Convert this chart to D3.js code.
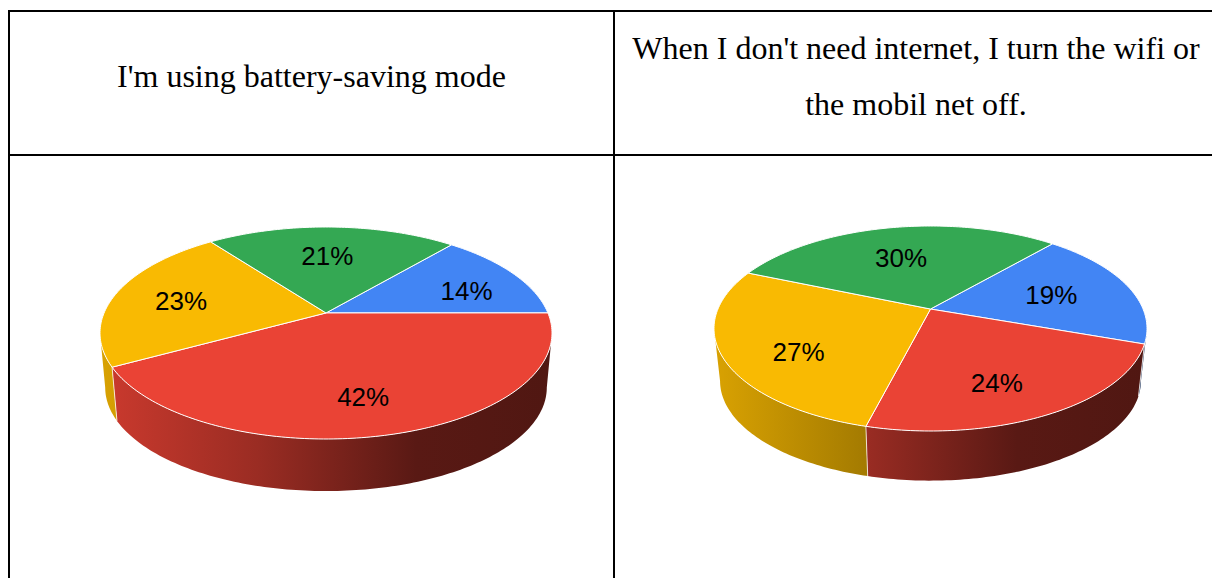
<!DOCTYPE html>
<html><head><meta charset="utf-8">
<script src="https://cdn.jsdelivr.net/npm/d3@7/dist/d3.min.js"></script>
<style>html,body{margin:0;padding:0;background:#fff;overflow:hidden}svg{display:block}</style>
</head><body><svg id="c" width="1212" height="578"></svg>
<script>
const categories = ["Blue","Red","Yellow","Green"];
const colors = ["#4285f4","#ea4335","#f9ba02","#34a853"];
const batteryValues = [13.8,42,22.8,21.4];
const wifiValues = [19,23.6,27.4,30];
const headerLeft = ["I'm using battery-saving mode"];
const headerRight = ["When I don't need internet, I turn the wifi or","the mobil net off."];
const shadeStops = [[0,.87],[.35,.66],[.7,.38],[1,.34]];

const svg = d3.select("#c");
const defs = svg.append("defs");
const rad = Math.PI/180;
const pct = d3.format(".0f");

// table
const rules = [[9,11,1212,11],[9,155,1212,155],[9,10,9,578],[614,11,614,578]];
svg.selectAll("line.rule").data(rules).join("line").attr("class","rule")
  .attr("x1",d=>d[0]).attr("y1",d=>d[1]).attr("x2",d=>d[2]).attr("y2",d=>d[3])
  .attr("stroke","#000").attr("stroke-width",2);
const hdr = (lines,x,ys)=>svg.selectAll(null).data(lines).join("text")
  .attr("x",x).attr("y",(d,i)=>ys[i]).attr("text-anchor","middle")
  .attr("font-family","'Liberation Serif',serif").attr("font-size",32).attr("fill","#000").text(d=>d);
hdr(headerLeft,311.5,[87]);
hdr(headerRight,916,[59,115]);

function pie3d(id,values,o){
  const g = svg.append("g");
  const k = o.k, q = Math.sqrt(1-k*k);
  // perspective map of the unit disc onto the ellipse
  const proj = (th,r,cy,rx,ry)=>{
    const u=r*Math.cos(th), v=r*Math.sin(th), w=1+k*v;
    return [o.cx+rx*u*q/w, cy+ry*(v+k)/w];
  };
  const top = (th,r=1)=>proj(th,r,o.cy,o.rx,o.ry);
  const bot = th=>proj(th,1,o.cy+o.dy,o.rx*o.s,o.ry*o.s);
  const arcs = d3.pie().sort(null).value(d=>d).startAngle(o.start*rad).endAngle((o.start+360)*rad)(values);
  const slices = arcs.map((a,i)=>({a0:a.startAngle-Math.PI/2,a1:a.endAngle-Math.PI/2,i,v:a.value}));
  const line = d3.line();
  const steps = (a,b)=>{const n=Math.max(2,Math.ceil((b-a)/rad));return d3.range(n+1).map(j=>a+(b-a)*j/n);};
  const sx = d3.scaleLinear().domain([0,1]).range([o.cx-o.rx,o.cx+o.rx]);

  // walls: only the front-facing part, between the two silhouette angles
  const front0=Math.asin(-k), front1=Math.PI-front0;
  const walls=[];
  slices.forEach(s=>{
    const a=Math.max(s.a0,front0), b=Math.min(s.a1,front1);
    if(b>a) walls.push({a,b,i:s.i});
  });
  colors.forEach((c,i)=>{
    const gr=defs.append("linearGradient").attr("id",id+i).attr("gradientUnits","userSpaceOnUse")
      .attr("x1",sx(0)).attr("x2",sx(1)).attr("y1",0).attr("y2",0);
    const base=d3.rgb(c);
    shadeStops.forEach(([f,m])=>gr.append("stop").attr("offset",f)
      .attr("stop-color",d3.rgb(base.r*m,base.g*m,base.b*m).formatHex()));
  });
  g.selectAll("path.wall").data(walls).join("path").attr("class","wall")
    .attr("d",w=>{const t=steps(w.a,w.b);return line(t.map(x=>top(x)).concat(t.slice().reverse().map(x=>bot(x))))+"Z";})
    .attr("fill",w=>`url(#${id}${w.i})`);
  // wall dividers
  g.selectAll("path.div").data(slices.map(s=>s.a1).filter(t=>t>front0&&t<front1))
    .join("path").attr("class","div").attr("d",t=>line([top(t),bot(t)]))
    .attr("stroke","#fff").attr("stroke-opacity",.75).attr("stroke-width",1).attr("fill","none");
  // top face
  g.selectAll("path.top").data(slices).join("path").attr("class","top")
    .attr("d",s=>line([top(0,0)].concat(steps(s.a0,s.a1).map(t=>top(t))))+"Z")
    .attr("fill",s=>colors[s.i]).attr("stroke","#fff").attr("stroke-width",1).attr("stroke-linejoin","round");
  // labels
  g.selectAll("text").data(slices).join("text")
    .attr("transform",s=>{const m=(s.a0+s.a1)/2;
      const p=top(m+o.labelTurn[s.i]*rad,o.labelR[s.i]);return `translate(${p[0]},${p[1]})`;})
    .attr("text-anchor","middle").attr("dy","0.36em")
    .attr("font-family","'Liberation Sans',Arial,sans-serif").attr("font-size",26).attr("fill","#000")
    .text(s=>pct(s.v)+"%");
}
pie3d("a",batteryValues,{cx:326,cy:333,rx:226,ry:106,k:-.189,s:.977,dy:54.5,start:40.3,
  labelR:[.70,.726,.68,.63],labelTurn:[5.7,2.9,-1.6,-1.2]});
pie3d("b",wifiValues,{cx:930.5,cy:328.5,rx:216.5,ry:102.5,k:-.19,s:.972,dy:52.5,start:41,
  labelR:[.605,.71,.70,.593],labelTurn:[0,5.5,-8.7,-2]});
</script></body></html>
